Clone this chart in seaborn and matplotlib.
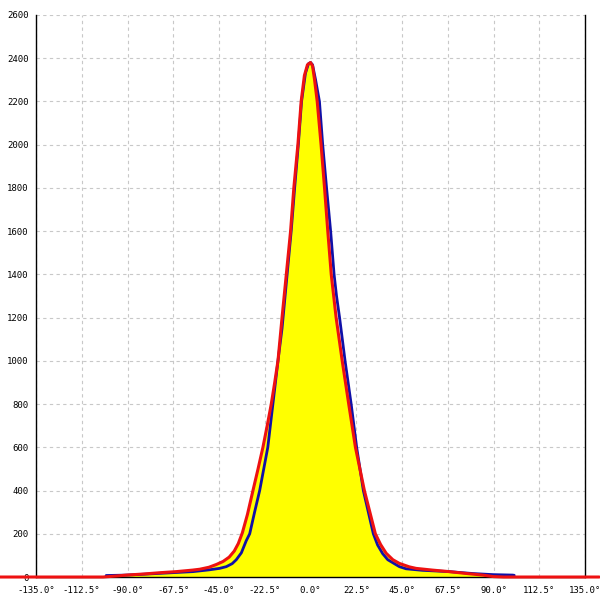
"""
plot.py
-------
Angular distribution: measured curve (blue) vs. fitted model (red, filled yellow).
"""

import numpy as np
import pandas as pd
import matplotlib
matplotlib.use("Agg")
import matplotlib.pyplot as plt
import seaborn as sns


# ── Data ──────────────────────────────────────────────────────────────────────
model_angle = [-153, -102, -95, -90.5, -82, -74, -66, -58, -54.5, -50, -46.3,
               -43, -40, -37.5, -35.5, -33.5, -31, -28.3, -25.8, -23.4, -21.3,
               -19.3, -17.6, -16.0, -15.0, -14.0, -11.9, -9.8, -8.2, -6.2,
               -4.6, -3.0, -1.5, 0, 1, 2, 3.3, 5.2, 6.9, 8.5, 10.2, 12.6,
               15.6, 18.8, 22.1, 26.5, 31.9, 34.5, 37.2, 40.5, 43.7, 48.6,
               51.9, 60, 68.2, 76, 84.6, 90, 95, 142]
model_count = [0, 0, 5, 9, 14, 20, 25, 32, 36, 45, 58,
               72, 92, 120, 155, 205, 290, 400, 500, 600, 700,
               800, 900, 1000, 1100, 1200, 1400, 1600, 1800, 2000,
               2200, 2320, 2370, 2380, 2365, 2300, 2200, 2000, 1800, 1600, 1400, 1200,
               1000, 800, 600, 400, 200, 150, 110, 80, 63, 47,
               40, 32, 25, 17, 9, 2, 0, 0]

meas_angle = [-100.5, -95, -90.5, -82, -74, -66, -57.8, -50, -44.7, -41.4,
              -38.5, -36.5, -34, -31.6, -29.9, -27.5, -25.0, -21.0, -18.5,
              -16.0, -14.0, -13.0, -11.5, -9.5, -7.8, -6.0, -4.4, -2.5, -1,
              0, 1, 2.5, 4.4, 6.0, 7.9, 9.9, 11.6, 12.8, 14.3, 17.0, 20.0,
              22.7, 26.0, 30.9, 33, 35.5, 38, 41.2, 43.7, 47, 55, 68.2, 80,
              90, 99.3, 100.2]
meas_count = [7, 8, 9, 13, 17, 21, 25, 33, 40, 48,
              62, 80, 112, 168, 200, 300, 400, 600, 800,
              1000, 1150, 1250, 1400, 1600, 1800, 2000, 2200, 2330, 2375,
              2380, 2370, 2300, 2200, 2000, 1800, 1600, 1400, 1300, 1200, 1000, 800,
              600, 400, 200, 148, 108, 80, 62, 48, 38, 31, 25, 16,
              11, 9, 8]

x_ticks = [-135.0, -112.5, -90.0, -67.5, -45.0, -22.5, 0.0, 22.5, 45.0, 67.5,
           90.0, 112.5, 135.0]
y_ticks = [0, 200, 400, 600, 800, 1000, 1200, 1400, 1600, 1800, 2000, 2200,
           2400, 2600]

model_df = pd.DataFrame({"angle": model_angle, "count": model_count})
meas_df = pd.DataFrame({"angle": meas_angle, "count": meas_count})


# ── Figure ────────────────────────────────────────────────────────────────────
sns.set_style("white")
plt.rcParams["font.family"] = ["DejaVu Sans Mono", "DejaVu Sans"]

fig = plt.figure(figsize=(6, 6), dpi=100)
ax = fig.add_axes([0.06, 0.0383, 0.915, 0.9367])

ax.fill_between(model_df["angle"], model_df["count"], 0,
                color="#ffff00", lw=0, zorder=2)
sns.lineplot(data=meas_df, x="angle", y="count", ax=ax, color="#1010a8",
             lw=2, sort=False, estimator=None, zorder=3)
sns.lineplot(data=model_df, x="angle", y="count", ax=ax,
             color="#ee1111", lw=2.2, sort=False, estimator=None, zorder=4)
for ln in ax.get_lines():
    ln.set_clip_on(False)
    ln.set_solid_joinstyle("round")

ax.set_xlim(-135, 135)
ax.set_ylim(0, 2600)
ax.set_xticks(x_ticks)
ax.set_xticklabels([f"{v:.1f}°" for v in x_ticks])
ax.set_yticks(y_ticks)
ax.set_yticklabels([str(v) for v in y_ticks])
ax.set_xlabel("")
ax.set_ylabel("")

ax.grid(True, color="#c8c8c8", ls=(0, (3, 3)), lw=0.8, zorder=1)
ax.set_axisbelow(True)

ax.tick_params(axis="both", direction="inout", length=7, width=1,
               color="black", labelsize=6.5, labelcolor="black", pad=2)
ax.tick_params(axis="x", pad=3)

for side in ["left", "right", "bottom"]:
    ax.spines[side].set_color("black")
    ax.spines[side].set_linewidth(1)
ax.spines["top"].set_visible(False)

fig.savefig("out.png", dpi=100)
plt.close(fig)
